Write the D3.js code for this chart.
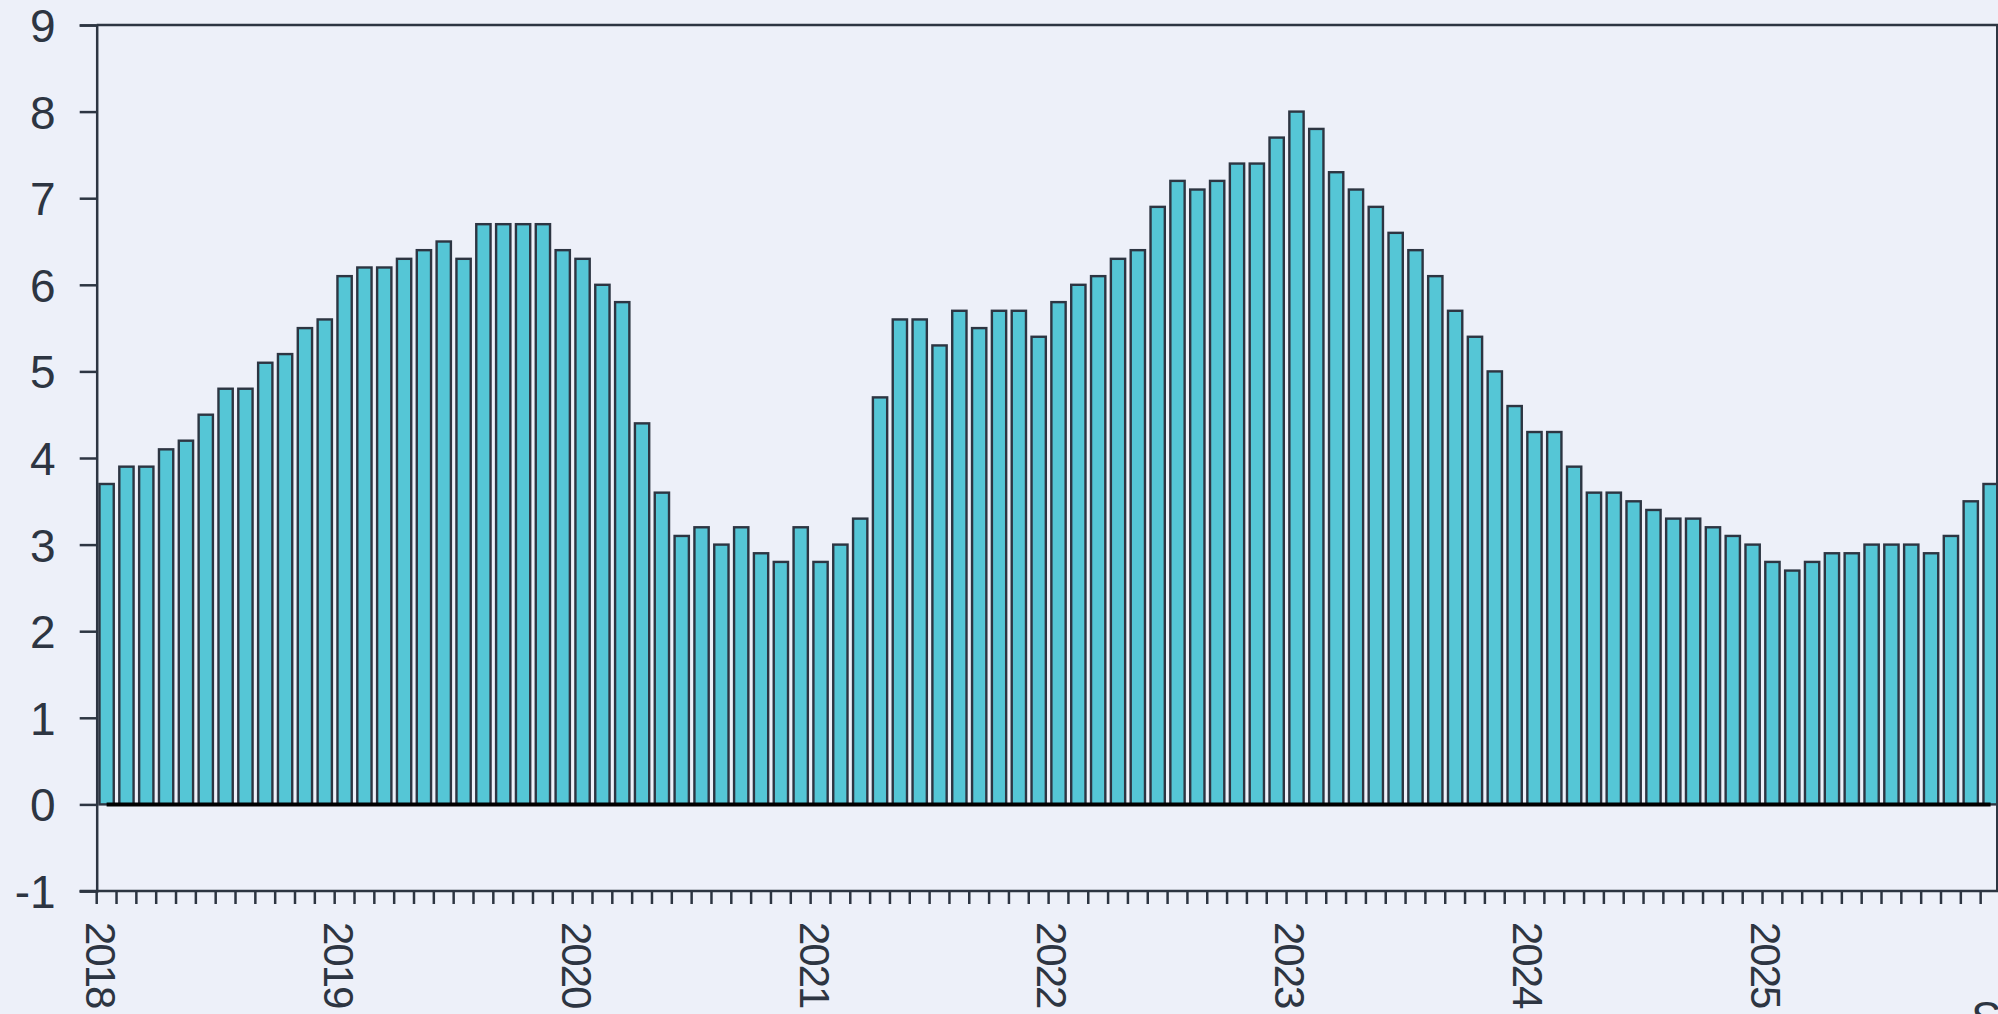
<!DOCTYPE html>
<html>
<head>
<meta charset="utf-8">
<script src="https://cdn.jsdelivr.net/npm/d3@7"></script>
<style>
  html, body { margin: 0; padding: 0; background: #edf0f9; overflow: hidden; }
  svg { display: block; font-family: "Liberation Sans", Arial, sans-serif; }
</style>
</head>
<body>
<div id="chart"></div>
<script>
// Monthly values, Jan 2018 - Dec 2025
const years = ["2018", "2019", "2020", "2021", "2022", "2023", "2024", "2025"];
const values2018 = [3.7, 3.9, 3.9, 4.1, 4.2, 4.5, 4.8, 4.8, 5.1, 5.2, 5.5, 5.6];
const values2019 = [6.1, 6.2, 6.2, 6.3, 6.4, 6.5, 6.3, 6.7, 6.7, 6.7, 6.7, 6.4];
const values2020 = [6.3, 6.0, 5.8, 4.4, 3.6, 3.1, 3.2, 3.0, 3.2, 2.9, 2.8, 3.2];
const values2021 = [2.8, 3.0, 3.3, 4.7, 5.6, 5.6, 5.3, 5.7, 5.5, 5.7, 5.7, 5.4];
const values2022 = [5.8, 6.0, 6.1, 6.3, 6.4, 6.9, 7.2, 7.1, 7.2, 7.4, 7.4, 7.7];
const values2023 = [8.0, 7.8, 7.3, 7.1, 6.9, 6.6, 6.4, 6.1, 5.7, 5.4, 5.0, 4.6];
const values2024 = [4.3, 4.3, 3.9, 3.6, 3.6, 3.5, 3.4, 3.3, 3.3, 3.2, 3.1, 3.0];
const values2025 = [2.8, 2.7, 2.8, 2.9, 2.9, 3.0, 3.0, 3.0, 2.9, 3.1, 3.5, 3.7];
const yTicks = [-1, 0, 1, 2, 3, 4, 5, 6, 7, 8, 9];

const values = [].concat(values2018, values2019, values2020, values2021,
                         values2022, values2023, values2024, values2025);
const months = values.map((v, i) => ({ idx: i, value: v }));

const width = 1998, height = 1014;
const plot = { left: 96.7, right: 2000.5, top: 25, bottom: 891 };
const axisColor = "#2d3542";

const svg = d3.select("#chart").append("svg")
    .attr("width", width)
    .attr("height", height);

const pad = 0.28;
const x = d3.scaleBand()
    .domain(months.map(d => d.idx))
    .range([plot.left, plot.right])
    .paddingInner(pad)
    .paddingOuter(pad / 2);
const step = x.step();

const y = d3.scaleLinear()
    .domain([-1, 9])
    .range([plot.bottom, plot.top]);

// bars
svg.append("g")
    .selectAll("rect")
    .data(months)
    .join("rect")
    .attr("x", d => x(d.idx))
    .attr("y", d => y(d.value))
    .attr("width", x.bandwidth())
    .attr("height", d => y(0) - y(d.value))
    .attr("fill", "#55c6d6")
    .attr("stroke", axisColor)
    .attr("stroke-width", 2.4);

// zero series line across bar centres
const zeroLine = d3.line()
    .x(d => x(d.idx) + x.bandwidth() / 2)
    .y(() => y(0));
svg.append("path")
    .datum(months)
    .attr("d", zeroLine)
    .attr("fill", "none")
    .attr("stroke", "#000")
    .attr("stroke-width", 4);

// y axis
const yAxis = svg.append("g")
    .attr("transform", `translate(${plot.left},0)`)
    .call(d3.axisLeft(y).tickValues(yTicks).tickSize(17).tickPadding(24).tickFormat(d => String(d)));
yAxis.select(".domain").attr("stroke", axisColor).attr("stroke-width", 2.5);
yAxis.selectAll(".tick line").attr("stroke", axisColor).attr("stroke-width", 2.5);
yAxis.selectAll(".tick text")
    .attr("fill", axisColor)
    .style("font-size", "46px")
    .attr("dy", "0.36em");

// x axis: a tick at every month start, year label each January
const monthStarts = d3.range(values.length);
const xAxisG = svg.append("g").attr("transform", `translate(0,${plot.bottom})`);
xAxisG.append("line")
    .attr("x1", plot.left - 17).attr("x2", width)
    .attr("y1", 0).attr("y2", 0)
    .attr("stroke", axisColor).attr("stroke-width", 2.5);
xAxisG.selectAll("line.tick")
    .data(monthStarts)
    .join("line")
    .attr("class", "tick")
    .attr("x1", i => x(i) - step * pad / 2)
    .attr("x2", i => x(i) - step * pad / 2)
    .attr("y1", 0).attr("y2", 13)
    .attr("stroke", axisColor).attr("stroke-width", 2.5);
xAxisG.selectAll("text")
    .data(years)
    .join("text")
    .attr("transform", (d, i) => `translate(${x(i * 12) - step * pad / 2 + 4},31) rotate(90)`)
    .attr("dy", "0.36em")
    .attr("fill", axisColor)
    .style("font-size", "42px")
    .style("letter-spacing", "-2px")
    .text(d => d);

// frame: top and right edges
svg.append("line")
    .attr("x1", plot.left).attr("x2", width)
    .attr("y1", plot.top).attr("y2", plot.top)
    .attr("stroke", axisColor).attr("stroke-width", 2.5);
svg.append("line")
    .attr("x1", 1997).attr("x2", 1997)
    .attr("y1", plot.top).attr("y2", plot.bottom)
    .attr("stroke", axisColor).attr("stroke-width", 2);

// source note, mostly cut off at the bottom edge
svg.append("text")
    .attr("x", 1971)
    .attr("y", 1034)
    .attr("fill", axisColor)
    .style("font-size", "46px")
    .text("Source");
</script>
</body>
</html>
